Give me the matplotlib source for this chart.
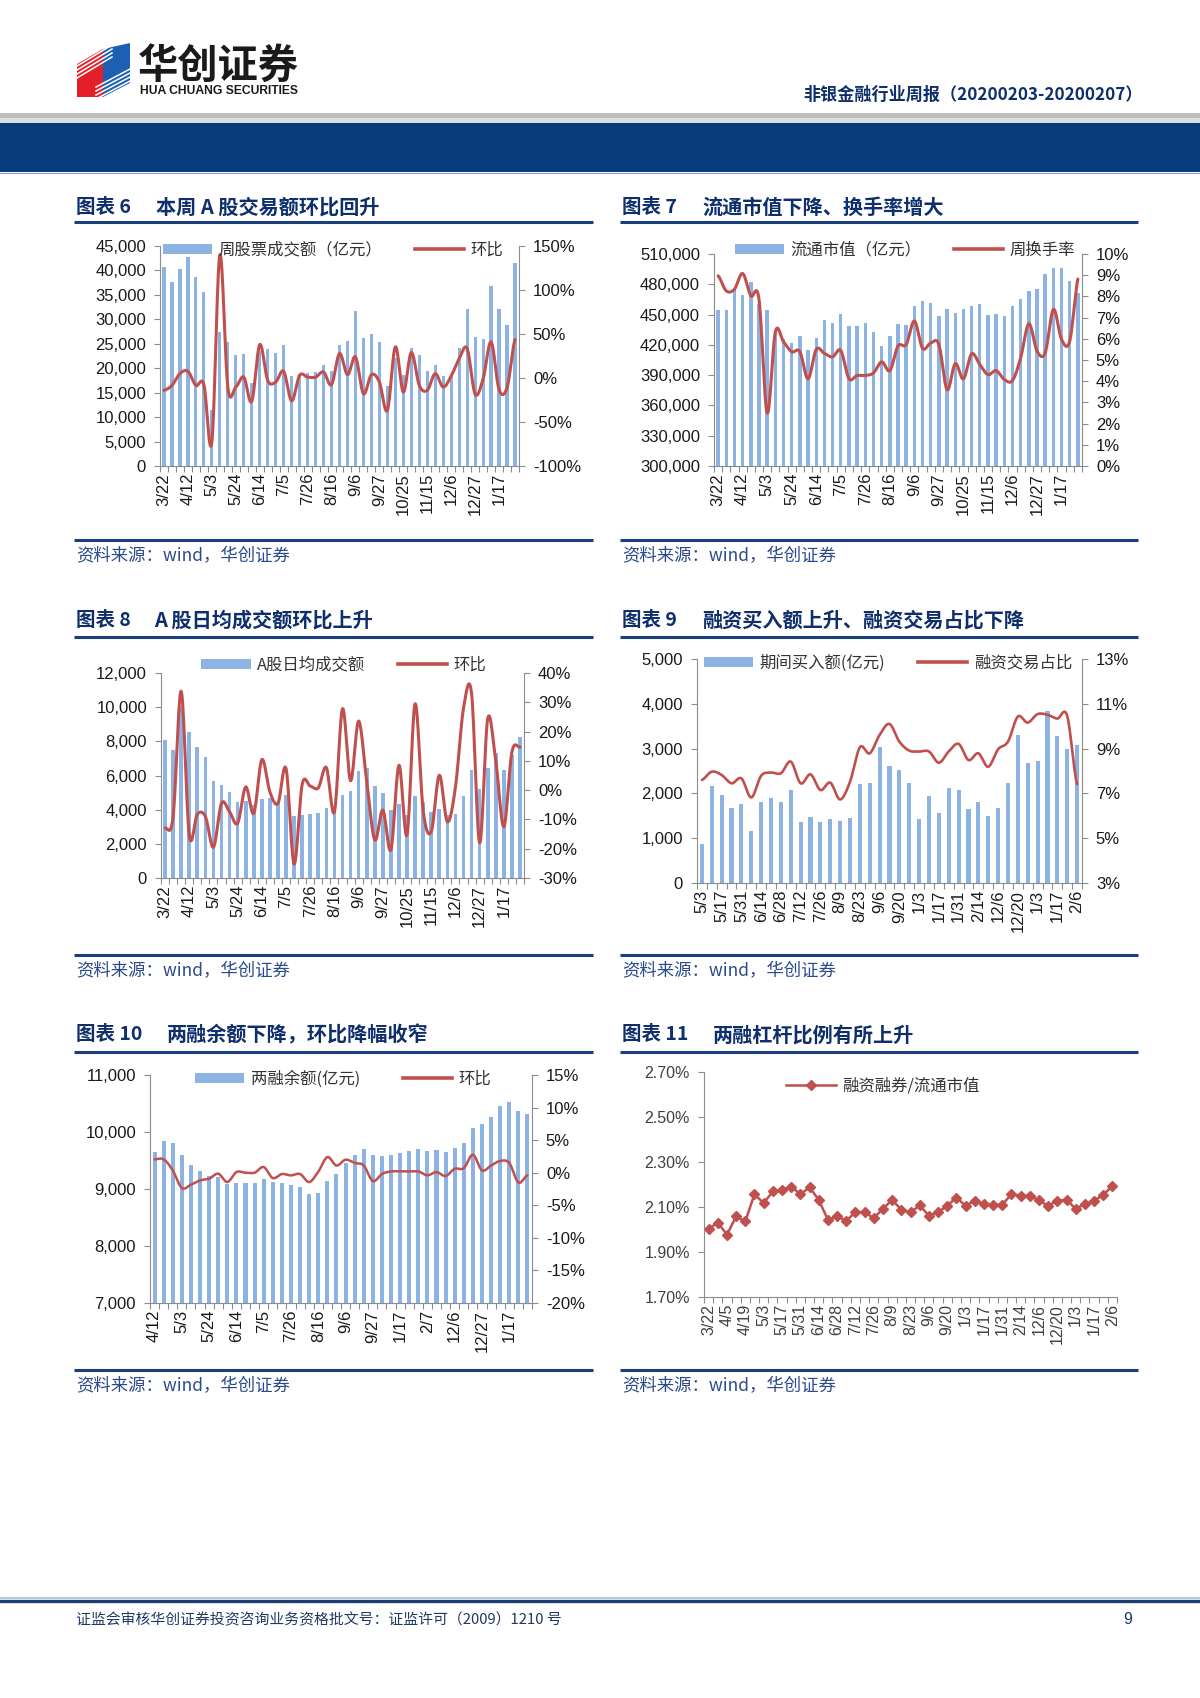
import numpy as np
import matplotlib
matplotlib.use('Agg')
import matplotlib.pyplot as plt
from matplotlib.patches import Rectangle, Polygon, Patch
from matplotlib.lines import Line2D
from matplotlib.ticker import FuncFormatter

plt.rcParams['font.family'] = ['Liberation Sans', 'Noto Sans CJK SC', 'DejaVu Sans']
CJK = ['Noto Sans CJK SC', 'DejaVu Sans']

W, H = 1200, 1698
BAR = '#8db3e2'
RED = '#c0504d'
NAVY = '#0e2f6b'
SPINE = '#8c8c8c'

# ---- 图表6 / 7 / 8 : weekly data (45 weeks) ----
wk_labels = ['3/22', '4/12', '5/3', '5/24', '6/14', '7/5', '7/26', '8/16', '9/6',
             '9/27', '10/25', '11/15', '12/6', '12/27', '1/17']
wk_turnover = [40800, 37700, 40200, 42800, 38700, 35600, 11400, 27400, 25400, 22700,
               22900, 17000, 23600, 24000, 23100, 24700, 18500, 18800, 19100, 19300,
               20700, 19500, 24800, 25500, 31700, 26200, 27000, 25300, 16300, 22000,
               18700, 24100, 22800, 19500, 20600, 18500, 18900, 24100, 32200, 26300,
               26000, 36900, 32200, 28900, 41600]
wk_turnover_qoq = [-14, -8.4, 5, 7.6, -8.4, -7.6, -73, 140, -10.3, -10.3,
                   1, -26.6, 38, -2.7, -4.6, 7.6, -26, 3, 1, 1,
                   6.8, -7.6, 27.8, 3.8, 24, -17.9, 3.8, -4.6, -36.9, 35.4,
                   -16, 28.9, -8.4, -14, 5, -10.3, 2.3, 22, 33.5, -18.3,
                   -1, 41, -13, -11, 43.7]

float_mktcap = [454300, 454300, 474300, 469300, 482700, 460000, 454300, 434300, 426000, 421700,
                428300, 415000, 427000, 445000, 441700, 450300, 439000, 439000, 441700, 432700,
                418700, 428300, 441000, 440000, 458300, 463300, 461000, 448300, 456000, 451700,
                456000, 458300, 460000, 450000, 450300, 448300, 458300, 465000, 473700, 475000,
                490300, 496000, 496000, 483300, 471000]
turnover_rate = [8.97, 8.26, 8.34, 9.08, 8.03, 7.87, 2.50, 6.32, 5.86, 5.39,
                 5.39, 4.11, 5.50, 5.31, 5.15, 5.45, 4.12, 4.27, 4.27, 4.39,
                 4.91, 4.50, 5.66, 5.73, 6.84, 5.55, 5.80, 5.73, 3.60, 4.83,
                 4.11, 5.29, 4.79, 4.31, 4.50, 4.08, 4.03, 5.10, 6.71, 5.42,
                 5.34, 7.39, 5.97, 5.89, 8.82]

daily_avg = [8100, 7500, 10000, 8520, 7670, 7070, 5670, 5440, 5010, 4450,
             4500, 4250, 4640, 4700, 4450, 4870, 3610, 3710, 3730, 3810,
             4100, 3900, 4870, 5070, 6250, 6450, 5380, 4990, 3960, 4350,
             3700, 4780, 4450, 3860, 4060, 3660, 3730, 4780, 6350, 5220,
             6450, 7340, 6350, 7200, 8270]
daily_qoq = [-13.0, -9.1, 33.8, -15.3, -8.2, -9.0, -19.5, -4.5, -7.4, -11.3,
             1.1, -7.9, 10.4, -0.6, -4.5, 7.4, -25.2, 1.9, 1.4, 0.8,
             7.7, -7.4, 27.8, 3.2, 23.6, 3.0, -17.0, -6.8, -20.4, 8.5,
             -15.3, 29.5, -7.0, -14.2, 5.1, -10.8, 1.0, 28.0, 33.0, -18.0,
             24.4, 10.0, -12.5, 13.0, 14.7]

# ---- 图表9 : 39 periods ----
fin_labels = ['5/3', '5/17', '5/31', '6/14', '6/28', '7/12', '7/26', '8/9', '8/23', '9/6',
              '9/20', '1/3', '1/17', '1/31', '2/14', '12/6', '12/20', '1/3', '1/17', '2/6']
fin_buy = [870, 2170, 1970, 1670, 1770, 1160, 1800, 1900, 1800, 2070,
           1370, 1470, 1370, 1430, 1390, 1460, 2210, 2240, 3030, 2610,
           2520, 2240, 1430, 1950, 1560, 2130, 2080, 1660, 1800, 1490,
           1670, 2240, 3310, 2670, 2730, 3830, 3290, 3000, 3080]
fin_share = [7.6, 7.97, 7.82, 7.45, 7.67, 6.82, 7.79, 7.93, 7.9, 8.42,
             7.45, 7.85, 7.15, 7.48, 6.73, 7.52, 9.06, 8.79, 9.61, 10.1,
             9.31, 8.91, 8.87, 8.87, 8.37, 8.87, 9.21, 8.49, 8.79, 8.19,
             8.97, 9.31, 10.43, 10.16, 10.54, 10.51, 10.34, 10.46, 7.42]

# ---- 图表10 : 42 weeks ----
bal_labels = ['4/12', '5/3', '5/24', '6/14', '7/5', '7/26', '8/16', '9/6', '9/27',
              '1/17', '2/7', '12/6', '12/27', '1/17']
margin_bal = [9655, 9842, 9813, 9596, 9421, 9316, 9230, 9215, 9082, 9099,
              9099, 9099, 9181, 9117, 9099, 9070, 9041, 8912, 8936, 9146,
              9263, 9450, 9596, 9702, 9596, 9579, 9596, 9626, 9667, 9702,
              9667, 9684, 9643, 9725, 9807, 10076, 10135, 10257, 10456, 10526,
              10368, 10316]
margin_bal_qoq = [2.05, 2.05, 0.36, -2.35, -1.84, -1.18, -0.92, -0.15, -1.43, 0.1,
                  0, 0, 0.87, -0.82, -0.2, -0.41, -0.2, -1.43, 0.15, 2.4,
                  1.1, 2.0, 1.5, 1.1, -1.28, -0.2, 0.2, 0.2, 0.2, 0.2,
                  -0.4, 0.1, -0.5, 0.6, 0.7, 2.76, 0.36, 1.1, 1.8, 1.5,
                  -1.5, -0.4]

# ---- 图表11 : 45 weeks ----
lev_labels = ['3/22', '4/5', '4/19', '5/3', '5/17', '5/31', '6/14', '6/28', '7/12', '7/26',
              '8/9', '8/23', '9/6', '9/20', '1/3', '1/17', '1/31', '2/14', '12/6', '12/20',
              '1/3', '1/17', '2/6']
leverage = [2.002, 2.031, 1.977, 2.058, 2.036, 2.157, 2.117, 2.169, 2.176, 2.191,
            2.157, 2.187, 2.132, 2.043, 2.058, 2.039, 2.077, 2.077, 2.051, 2.092,
            2.132, 2.088, 2.076, 2.107, 2.062, 2.077, 2.105, 2.142, 2.105, 2.128,
            2.114, 2.110, 2.110, 2.157, 2.150, 2.151, 2.129, 2.105, 2.128, 2.132,
            2.092, 2.113, 2.128, 2.154, 2.194]


def box(l, t, r, b):
    return [l / W, 1 - b / H, (r - l) / W, (b - t) / H]


def smooth(y, n=16):
    # catmull-rom curve through the points, like excel's smoothed line
    y = np.asarray(y, float)
    p = np.r_[y[0], y, y[-1]]
    t = np.linspace(0, 1, n, endpoint=False)[:, None]
    p0, p1, p2, p3 = p[:-3], p[1:-2], p[2:-1], p[3:]
    seg = 0.5 * (2 * p1 + (-p0 + p2) * t + (2 * p0 - 5 * p1 + 4 * p2 - p3) * t ** 2
                 + (-p0 + 3 * p1 - 3 * p2 + p3) * t ** 3)
    xs = np.arange(len(y) - 1)[None, :] + t
    return np.r_[xs.T.ravel(), len(y) - 1], np.r_[seg.T.ravel(), y[-1]]


def style_x(ax, n, step, labels, color='#1a1a1a', size=12):
    ax.set_xlim(-0.5, n - 0.5)
    ax.set_xticks(np.arange(0, n, step))
    ax.set_xticklabels(labels, rotation=90)
    ax.set_xticks(np.arange(n + 1) - 0.5, minor=True)
    ax.tick_params(axis='x', which='major', length=0, labelsize=size, pad=5, labelcolor=color)
    ax.tick_params(axis='x', which='minor', length=4, width=0.8, color=SPINE)


def combo(rect, bars, line, labels, step, lticks, lfmt, rticks, legend_labels, leg_xy,
          width=0.42, lw=2.2, colsp=2.0):
    ax = fig.add_axes(box(*rect))
    ax.set_facecolor('none')
    n = len(bars)
    x = np.arange(n)
    ax.bar(x, bars, width=width, color=BAR, zorder=2)
    ax.set_ylim(lticks[0], lticks[-1])
    ax.set_yticks(lticks)
    ax.yaxis.set_major_formatter(FuncFormatter(lfmt))
    style_x(ax, n, step, labels)
    ax.tick_params(axis='y', direction='out', length=4, width=0.8, color=SPINE,
                   labelsize=12, pad=6, labelcolor='#1a1a1a')
    for s in ['top', 'right']:
        ax.spines[s].set_visible(False)
    for s in ['left', 'bottom']:
        ax.spines[s].set_color(SPINE)
        ax.spines[s].set_linewidth(0.8)

    ax2 = ax.twinx()
    xs, ys = smooth(line)
    ax2.plot(xs, ys, color=RED, lw=lw, solid_capstyle='round', zorder=3)
    ax2.set_ylim(rticks[0], rticks[-1])
    ax2.set_yticks(rticks)
    ax2.yaxis.set_major_formatter(FuncFormatter(lambda v, p: f'{v:.0f}%'))
    ax2.tick_params(axis='y', direction='out', length=4, width=0.8, color=SPINE,
                    labelsize=12, pad=6, labelcolor='#1a1a1a')
    for s in ['top', 'left', 'bottom']:
        ax2.spines[s].set_visible(False)
    ax2.spines['right'].set_color(SPINE)
    ax2.spines['right'].set_linewidth(0.8)

    handles = [Patch(facecolor=BAR, edgecolor='none'), Line2D([], [], color=RED, lw=2.6)]
    ax2.legend(handles, legend_labels, loc='center',
               bbox_to_anchor=(leg_xy[0] / W, 1 - leg_xy[1] / H),
               bbox_transform=fig.transFigure, ncol=2, frameon=False,
               handlelength=3.0, handleheight=0.55, handletextpad=0.4, columnspacing=colsp,
               prop={'family': CJK, 'size': 11.8}, labelcolor='#333333')
    return ax, ax2


fig = plt.figure(figsize=(12, 16.98), dpi=100)
bg = fig.add_axes([0, 0, 1, 1], zorder=-5)
bg.set_xlim(0, W)
bg.set_ylim(H, 0)
bg.axis('off')

# header
bg.add_patch(Rectangle((0, 113), W, 5, color='#bdbdbd', lw=0))
bg.add_patch(Rectangle((0, 118), W, 5, color='#dedede', lw=0))
bg.add_patch(Rectangle((0, 123), W, 49, color='#073b7c', lw=0))
bg.plot([0, W], [172.5, 172.5], color='#7f9cc4', lw=0.8)

bg.add_patch(Polygon([(77, 64), (103, 49), (103, 97), (77, 97)], closed=True, color='#e3202a', lw=0))
bg.add_patch(Polygon([(103, 49), (130, 43), (130, 83), (103, 97)], closed=True, color='#1c5fb4', lw=0))
for k in range(4):
    bg.plot([77, 112], [66 + 4 * k, 45 + 4 * k], color='white', lw=1.1)
    bg.plot([96, 130], [99 - 4 * k, 81 - 4 * k], color='white', lw=1.1)
bg.add_patch(Rectangle((60, 30), 17, 75, color='white', lw=0))
bg.add_patch(Rectangle((130, 30), 8, 75, color='white', lw=0))
bg.text(138, 66, '华创证券', fontsize=29, weight='heavy', family=CJK, color='#1a1a1a',
        va='center', ha='left')
bg.text(140, 91, 'HUA CHUANG SECURITIES', fontsize=8.7, weight='bold', color='#1a1a1a',
        va='center', ha='left')
bg.text(1143, 95, '非银金融行业周报（20200203-20200207）', fontsize=12.3, weight='bold',
        family=CJK, color=NAVY, va='center', ha='right')

# chart titles, rules, sources
rows = [(207, 222, 540, 556), (620, 637, 955, 971), (1035, 1052, 1370, 1386)]
titles = [('图表 6', '本周 A 股交易额环比回升', 156), ('图表 7', '流通市值下降、换手率增大', 702),
          ('图表 8', 'A 股日均成交额环比上升', 154), ('图表 9', '融资买入额上升、融资交易占比下降', 702),
          ('图表 10', '两融余额下降，环比降幅收窄', 167), ('图表 11', '两融杠杆比例有所上升', 713)]
for i, (ty, uy, sy, sty) in enumerate(rows):
    for j, (x0, x1) in enumerate([(74, 593), (620, 1138)]):
        num, name, nx = titles[2 * i + j]
        bg.text(x0 + 2, ty, num, fontsize=14, weight='bold', family=CJK, color=NAVY, va='center')
        bg.text(nx, ty, name, fontsize=14.5, weight='bold', family=CJK, color=NAVY, va='center')
        bg.plot([x0, x1], [uy, uy], color='#1b3f7d', lw=2.2, solid_capstyle='butt')
        bg.plot([x0, x1], [sy, sy], color='#1b3f7d', lw=2.2, solid_capstyle='butt')
        bg.text(x0 + 2, sty, '资料来源：wind，华创证券', fontsize=12.5, family=CJK,
                color='#2b4a8b', va='center', style='italic')

# footer
bg.plot([0, W], [1597.5, 1597.5], color='#a9bdd9', lw=1.2)
bg.plot([0, W], [1600.5, 1600.5], color='#1f3f73', lw=2.4)
bg.text(76, 1620, '证监会审核华创证券投资咨询业务资格批文号：证监许可（2009）1210 号', fontsize=10.7,
        family=CJK, color='#1f3864', va='center')
bg.text(1132, 1620, '9', fontsize=11.5, color='#1f3864', va='center', ha='right')

thousands = lambda v, p: f'{v:,.0f}'

combo((160, 246, 519, 466), wk_turnover, wk_turnover_qoq, wk_labels, 3,
      list(range(0, 45001, 5000)), thousands, list(range(-100, 151, 50)),
      ['周股票成交额（亿元）', '环比'], (333, 250), width=0.40)

combo((714, 254, 1082, 466), float_mktcap, turnover_rate, wk_labels, 3,
      list(range(300000, 510001, 30000)), thousands, list(range(0, 11, 1)),
      ['流通市值（亿元）', '周换手率'], (905, 250), width=0.42, colsp=2.0)

combo((161, 673, 524, 878), daily_avg, daily_qoq, wk_labels, 3,
      list(range(0, 12001, 2000)), thousands, list(range(-30, 41, 10)),
      ['A股日均成交额', '环比'], (344, 665), width=0.45)

combo((697, 659, 1082, 883), fin_buy, fin_share, fin_labels, 2,
      list(range(0, 5001, 1000)), thousands, list(range(3, 14, 2)),
      ['期间买入额(亿元)', '融资交易占比'], (888, 663), width=0.42, lw=1.9)

combo((150, 1075, 532, 1303), margin_bal, margin_bal_qoq, bal_labels, 3,
      list(range(7000, 11001, 1000)), thousands, list(range(-20, 16, 5)),
      ['两融余额(亿元)', '环比'], (343, 1079), width=0.44, lw=1.8, colsp=2.6)

# 图表11
ax = fig.add_axes(box(704, 1072, 1117, 1297))
ax.set_facecolor('none')
x = np.arange(len(leverage))
ax.plot(x, leverage, color=RED, lw=1.8, marker='D', ms=5.5, mfc=RED, mec=RED)
ax.set_ylim(1.70, 2.70)
ax.set_yticks([1.70, 1.90, 2.10, 2.30, 2.50, 2.70])
ax.yaxis.set_major_formatter(FuncFormatter(lambda v, p: f'{v:.2f}%'))
style_x(ax, len(leverage), 2, lev_labels, color='#404040', size=11.5)
ax.tick_params(axis='y', direction='out', length=4, width=0.8, color=SPINE,
               labelsize=11.5, pad=6, labelcolor='#404040')
for s in ['top', 'right']:
    ax.spines[s].set_visible(False)
for s in ['left', 'bottom']:
    ax.spines[s].set_color(SPINE)
    ax.spines[s].set_linewidth(0.8)
ax.legend([Line2D([], [], color=RED, lw=1.8, marker='D', ms=5.5)], ['融资融券/流通市值'],
          loc='center', bbox_to_anchor=(883 / W, 1 - 1086 / H), bbox_transform=fig.transFigure,
          frameon=False, handlelength=3.0, handletextpad=0.4,
          prop={'family': CJK, 'size': 11.8}, labelcolor='#333333')

plt.savefig('out.png', dpi=100, facecolor='white')
